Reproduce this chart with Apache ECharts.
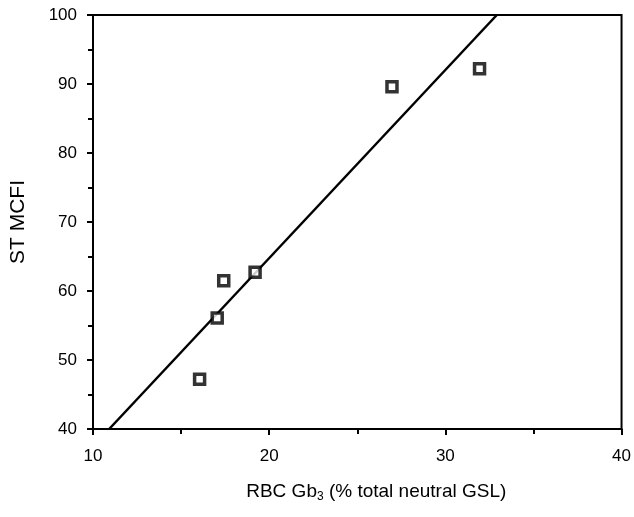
<!DOCTYPE html>
<html><head><meta charset="utf-8">
<script src="https://cdn.jsdelivr.net/npm/echarts@6/dist/echarts.min.js"></script>
<style>html,body{margin:0;padding:0;background:#fff}#c{width:634px;height:517px}</style>
</head><body><div id="c"></div>
<script>
const gb3 = [16.05, 17.05, 17.42, 19.2, 26.97, 31.94];
const mcfi = [47.2, 56.1, 61.5, 62.7, 89.6, 92.2];
const fitX = [10.92, 32.92];
const fitY = [40, 100];
const xTicks = [10, 20, 30, 40];
const yTicks = [40, 50, 60, 70, 80, 90, 100];

const chart = echarts.init(document.getElementById('c'));
const font = 'Liberation Sans, Arial, sans-serif';
chart.setOption({
  animation: false,
  backgroundColor: '#fff',
  grid: {left: 92, right: 12, top: 15, bottom: 88, show: true, borderColor: '#000', borderWidth: 2},
  xAxis: {
    type: 'value', min: xTicks[0], max: xTicks[xTicks.length-1], interval: 10,
    axisLine: {lineStyle: {color: '#000', width: 2}},
    axisTick: {length: 6, lineStyle: {color: '#000', width: 2}},
    minorTick: {show: true, splitNumber: 2, length: 5, lineStyle: {color: '#000', width: 2}},
    splitLine: {show: false},
    axisLabel: {color: '#000', fontSize: 17, fontFamily: font, margin: 19},
    name: '{a|RBC Gb}{s|3}{a| (% total neutral GSL)}', nameLocation: 'middle', nameGap: 52,
    nameTextStyle: {padding: [0, 0, 0, 38], rich: {a: {fontSize: 19, fontFamily: font, color: '#000'}, s: {fontSize: 12, fontFamily: font, color: '#000', padding: [10, 0, 0, 0]}}}
  },
  yAxis: {
    type: 'value', min: yTicks[0], max: yTicks[yTicks.length-1], interval: 10,
    axisLine: {lineStyle: {color: '#000', width: 2}},
    axisTick: {length: 6, lineStyle: {color: '#000', width: 2}},
    minorTick: {show: true, splitNumber: 2, length: 5, lineStyle: {color: '#000', width: 2}},
    splitLine: {show: false},
    axisLabel: {color: '#000', fontSize: 17, fontFamily: font, margin: 16},
    name: 'ST MCFI', nameLocation: 'middle', nameGap: 64,
    nameTextStyle: {fontSize: 21, fontFamily: font, color: '#000'}
  },
  series: [
    {type: 'line', data: fitX.map((x, i) => [x, fitY[i]]), symbol: 'none', lineStyle: {color: '#000', width: 2.5}, z: 2},
    {type: 'scatter', data: gb3.map((x, i) => [x, mcfi[i]]), symbol: 'rect', symbolSize: 10,
     itemStyle: {color: '#fff', borderColor: '#000', borderWidth: 3.5}, z: 3}
  ]
});
</script></body></html>
